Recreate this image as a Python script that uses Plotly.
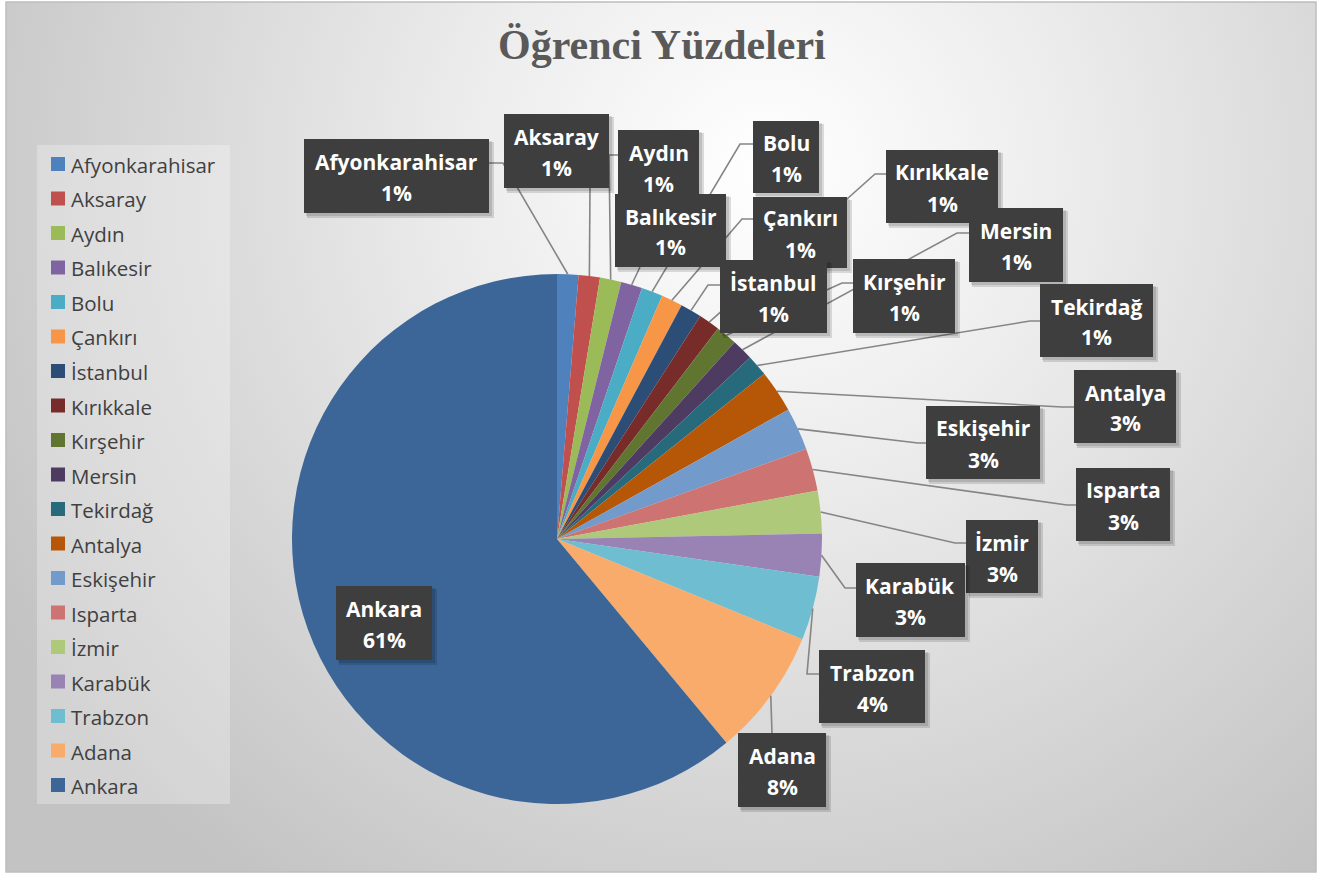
import math
import base64
import plotly.graph_objects as go

W, H = 1322, 876

# ---------------- data ----------------
cities = ["Afyonkarahisar", "Aksaray", "Aydın", "Balıkesir", "Bolu", "Çankırı",
          "İstanbul", "Kırıkkale", "Kırşehir", "Mersin", "Tekirdağ", "Antalya",
          "Eskişehir", "Isparta", "İzmir", "Karabük", "Trabzon", "Adana", "Ankara"]
students = [1, 1, 1, 1, 1, 1, 1, 1, 1, 1, 1, 2, 2, 2, 2, 2, 3, 6, 47]

colors = ["#4F81BD", "#C0504D", "#9BBB59", "#8064A2", "#4BACC6", "#F79646",
          "#2C4D75", "#772C2A", "#5F7530", "#4D3B62", "#276A7C", "#B65708",
          "#729ACA", "#CD7371", "#AFC97A", "#9983B5", "#6FBDD1", "#F9AB6B",
          "#3B6697"]

# ---------------- layout helpers (pixel positions of label boxes) ----------------
label_boxes = {
    "Afyonkarahisar": (304, 139, 489, 213),
    "Aksaray": (504, 114, 609, 188),
    "Aydın": (618, 130, 699, 204),
    "Balıkesir": (615, 194, 726, 267),
    "Bolu": (753, 121, 819, 193),
    "Çankırı": (753, 197, 847, 268),
    "İstanbul": (720, 260, 827, 333),
    "Kırıkkale": (886, 150, 998, 223),
    "Kırşehir": (853, 259, 955, 333),
    "Mersin": (969, 208, 1063, 282),
    "Tekirdağ": (1040, 284, 1153, 357),
    "Antalya": (1074, 370, 1176, 443),
    "Eskişehir": (926, 406, 1040, 479),
    "Isparta": (1076, 468, 1170, 541),
    "İzmir": (966, 520, 1038, 593),
    "Karabük": (856, 563, 965, 637),
    "Trabzon": (819, 650, 925, 723),
    "Adana": (738, 733, 826, 807),
    "Ankara": (336, 586, 432, 660),
}
leader_routes = {
    "Afyonkarahisar": [(489, 163), (503, 163)],
    "Aksaray": [(590, 188)],
    "Aydın": [(618, 155), (609, 155)],
    "Balıkesir": [(640, 267)],
    "Bolu": [(753, 144), (740, 144)],
    "Çankırı": [(753, 219), (742, 219)],
    "İstanbul": [(720, 285), (708, 285)],
    "Kırıkkale": [(886, 174), (875, 174)],
    "Kırşehir": [(853, 283), (842, 283)],
    "Mersin": [(969, 233), (957, 233)],
    "Tekirdağ": [(1040, 321), (1030, 321)],
    "Antalya": [(1074, 407), (1062, 407)],
    "Eskişehir": [(926, 443), (918, 443)],
    "Isparta": [(1076, 505), (1067, 505)],
    "İzmir": [(966, 543), (955, 543)],
    "Karabük": [(856, 588), (845, 588)],
    "Trabzon": [(819, 674), (807, 674)],
    "Adana": [(772, 733)],
}

CX, CY, R = 557, 539, 265   # pie centre / radius in px


def px(x):
    return x / W


def py(y):
    return 1 - y / H


total = sum(students)
pct_text = [f"{round(v / total * 100)}%" for v in students]

# ---------------- figure ----------------
fig = go.Figure()
fig.add_trace(go.Pie(
    labels=cities,
    values=students,
    sort=False,
    direction="clockwise",
    rotation=0,
    marker=dict(colors=colors, line=dict(width=0)),
    textinfo="none",
    hoverinfo="label+value+percent",
    showlegend=False,
    domain=dict(x=[px(CX - R), px(CX + R)], y=[py(CY + R), py(CY - R)]),
))

shapes = []
annotations = []

# background gradient (chart area)
svg = ('<svg xmlns="http://www.w3.org/2000/svg" width="1310" height="870">'
       '<defs><radialGradient id="g" gradientUnits="userSpaceOnUse" cx="760" cy="170" r="880">'
       '<stop offset="0" stop-color="#FFFFFF"/><stop offset="0.35" stop-color="#ECECEC"/>'
       '<stop offset="1" stop-color="#C3C3C3"/></radialGradient></defs>'
       '<rect width="1310" height="870" fill="url(#g)"/></svg>')
src = "data:image/svg+xml;base64," + base64.b64encode(svg.encode()).decode()
images = [dict(source=src, xref="paper", yref="paper", x=px(6), y=py(2),
               sizex=1310 / W, sizey=870 / H, xanchor="left", yanchor="top",
               sizing="stretch", layer="below")]

shapes.append(dict(type="rect", xref="paper", yref="paper",
                   x0=px(6), x1=px(1316), y0=py(872), y1=py(2),
                   line=dict(color="#BDBDBD", width=1.5), fillcolor="rgba(0,0,0,0)",
                   layer="below"))

# legend (manual, Excel style)
shapes.append(dict(type="rect", xref="paper", yref="paper",
                   x0=px(37), x1=px(230), y0=py(804), y1=py(145),
                   line=dict(width=0), fillcolor="rgba(255,255,255,0.28)", layer="below"))
row0, step = 164, 34.5
for i, (c, col) in enumerate(zip(cities, colors)):
    yc = row0 + i * step
    shapes.append(dict(type="rect", xref="paper", yref="paper",
                       x0=px(51), x1=px(65), y0=py(yc + 7), y1=py(yc - 7),
                       line=dict(width=0), fillcolor=col))
    annotations.append(dict(xref="paper", yref="paper", x=px(69), y=py(yc + 1),
                            xanchor="left", yanchor="middle", showarrow=False,
                            text=c, font=dict(family="Open Sans", size=20.5, color="#404040")))

# leader lines
cum = 0
for c, v in zip(cities, students):
    mid = (cum + v / 2) / total * 2 * math.pi
    cum += v
    if c not in leader_routes:
        continue
    ex = CX + R * math.sin(mid)
    ey = CY - R * math.cos(mid)
    pts = leader_routes[c] + [(ex, ey)]
    path = "M " + " L ".join(f"{px(x):.5f},{py(y):.5f}" for x, y in pts)
    shapes.append(dict(type="path", xref="paper", yref="paper", path=path,
                       line=dict(color="#858585", width=1.6)))

# label boxes
for c, p in zip(cities, pct_text):
    x0, y0, x1, y1 = label_boxes[c]
    shapes.append(dict(type="rect", xref="paper", yref="paper",
                       x0=px(x0 + 3), x1=px(x1 + 5), y0=py(y1 + 5), y1=py(y0 + 3),
                       line=dict(width=0), fillcolor="rgba(0,0,0,0.13)"))
    shapes.append(dict(type="rect", xref="paper", yref="paper",
                       x0=px(x0 + 2), x1=px(x1 + 3), y0=py(y1 + 3), y1=py(y0 + 2),
                       line=dict(width=0), fillcolor="rgba(0,0,0,0.12)"))
    shapes.append(dict(type="rect", xref="paper", yref="paper",
                       x0=px(x0), x1=px(x1), y0=py(y1), y1=py(y0),
                       line=dict(width=0), fillcolor="#3E3E3E"))
    xc = (x0 + x1) / 2
    yc = (y0 + y1) / 2
    annotations.append(dict(xref="paper", yref="paper", x=px(xc), y=py(yc - 14),
                            xanchor="center", yanchor="middle", showarrow=False,
                            text=f"<b>{c}</b>",
                            font=dict(family="Open Sans", size=21, color="#FFFFFF")))
    annotations.append(dict(xref="paper", yref="paper", x=px(xc), y=py(yc + 17),
                            xanchor="center", yanchor="middle", showarrow=False,
                            text=f"<b>{p}</b>",
                            font=dict(family="Open Sans", size=21, color="#FFFFFF")))

# title
annotations.append(dict(xref="paper", yref="paper", x=px(662), y=py(45),
                        xanchor="center", yanchor="middle", showarrow=False,
                        text="<b>Öğrenci Yüzdeleri</b>",
                        font=dict(family="Liberation Serif", size=42, color="#595959")))

fig.update_layout(
    width=W, height=H, autosize=False,
    margin=dict(l=0, r=0, t=0, b=0),
    paper_bgcolor="#FFFFFF",
    plot_bgcolor="rgba(0,0,0,0)",
    showlegend=False,
    shapes=shapes,
    annotations=annotations,
    images=images,
)

fig.write_html("out.html", config={"displayModeBar": False},
               post_script="document.body.style.margin='0';")
